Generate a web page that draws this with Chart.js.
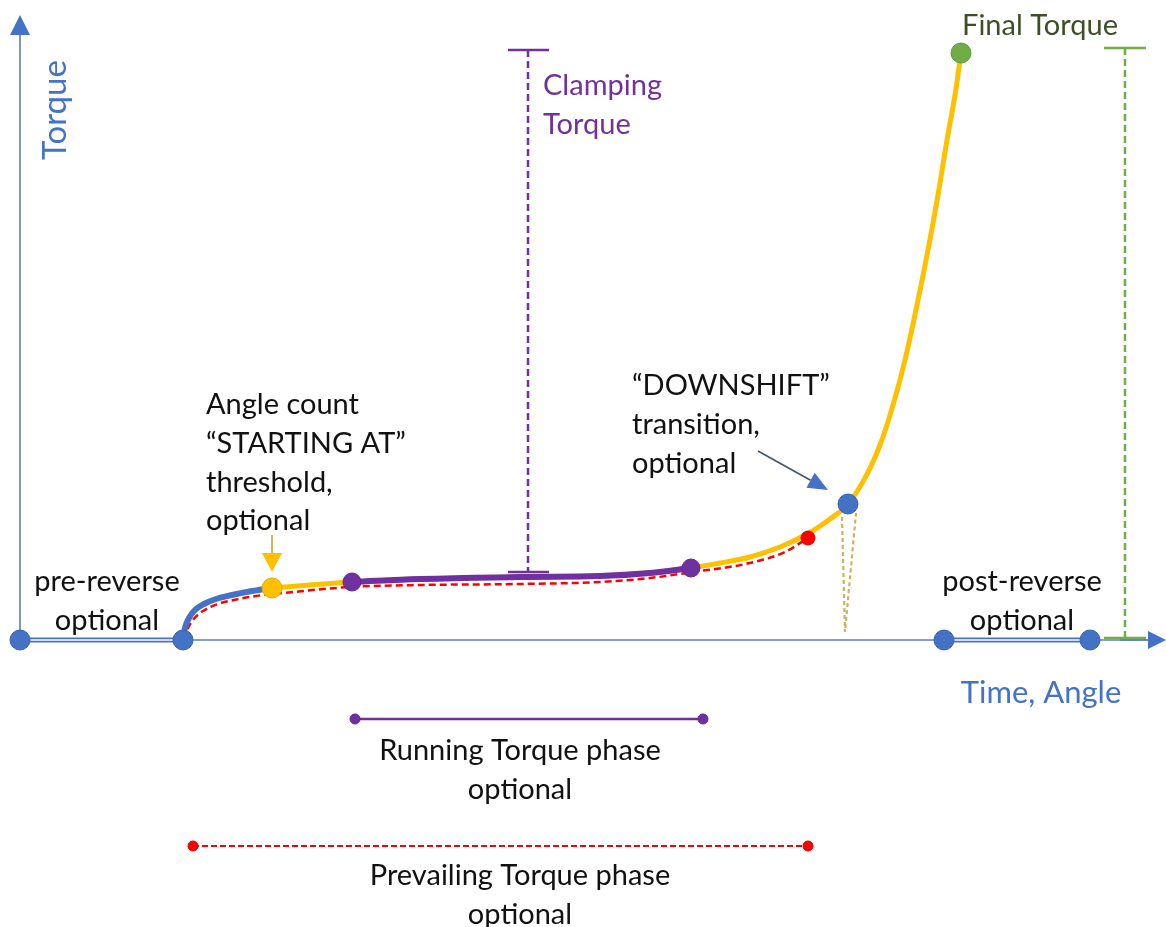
<!DOCTYPE html>
<html>
<head>
<meta charset="utf-8">
<title>Torque vs Time, Angle</title>
<script src="https://cdn.jsdelivr.net/npm/chart.js@4.4.1/dist/chart.umd.min.js"></script>
<style>
  html, body { margin: 0; padding: 0; background: #fff; }
  #wrap { width: 1166px; height: 927px; position: relative; }
</style>
</head>
<body>
<div id="wrap"><canvas id="torqueChart"></canvas></div>
<script>
// diagram units: x = time / angle, y = torque (axes cross at 0,0)
const preReverse  = [[0, 0], [16.3, 0]];
const postReverse = [[92.4, 0], [107.0, 0]];

const rampUp = [[16.3, 0], [16.5, 1.2], [16.9, 2.2], [17.5, 3.0], [18.4, 3.6],
                [19.6, 4.1], [21.2, 4.5], [23.2, 4.9], [25.2, 5.2]];
const tighten = [[25.2, 5.2], [29.0, 5.5], [33.2, 5.8], [40, 6.1], [50, 6.3], [58, 6.4],
                 [63, 6.7], [67.1, 7.2], [70, 7.7], [73, 8.3], [76, 9.3], [78.9, 10.7],
                 [81.0, 12.1], [82.8, 13.6], [84.5, 16.2], [86.0, 19.5], [87.3, 23.5],
                 [88.5, 28.0], [89.7, 33.5], [90.8, 39.0], [91.8, 44.5], [92.7, 50.0],
                 [93.5, 54.5], [94.1, 58.7]];
const running = [[33.2, 5.8], [40, 6.1], [50, 6.3], [58, 6.4], [63, 6.7], [67.1, 7.2]];
const prevailing = [[16.5, 0], [16.7, 0.9], [17.3, 2.0], [18.3, 2.9], [19.8, 3.6],
                    [21.9, 4.1], [24.3, 4.5], [26.3, 4.7], [33, 5.3], [40, 5.5], [50, 5.6],
                    [58, 5.8], [63, 6.2], [67.3, 6.8], [73, 7.7], [76.5, 8.8], [78.8, 10.2]];
const downshiftDip = [[82.2, 12.3], [82.5, 0.8], [83.6, 12.7]];

const blueDots   = [[0, 0], [16.3, 0], [82.8, 13.6], [92.4, 0], [107.0, 0]];
const startDot   = [[25.2, 5.2]];
const purpleDots = [[33.2, 5.8], [67.1, 7.2]];
const redDot     = [[78.8, 10.2]];
const finalDot   = [[94.1, 58.7]];

const clampStem = [[50.8, 59.0], [50.8, 6.8]];
const clampCaps = [[48.8, 59.0], [52.9, 59.0], null, [48.8, 6.8], [52.9, 6.8]];
const finalStem = [[110.5, 59.2], [110.5, 0.2]];
const finalCaps = [[108.4, 59.2], [112.6, 59.2], null, [108.4, 0.2], [112.6, 0.2]];
const runningPhase    = [[33.5, -7.9], [68.3, -7.9]];
const prevailingPhase = [[17.3, -20.6], [78.8, -20.6]];

const xAxisLine = [[0, 0], [113.0, 0]];
const yAxisLine = [[0, 0], [0, 60.6]];

const pts = a => a.map(p => p ? { x: p[0], y: p[1] } : { x: null, y: null });

// text notes (anchor in diagram units)
const notes = [
  { lines: ['pre-reverse', 'optional'], x: 8.7, y: 5.8, align: 'center', color: '#111' },
  { lines: ['post-reverse', 'optional'], x: 100.2, y: 5.8, align: 'center', color: '#111' },
  { lines: ['Angle count', '\u201CSTARTING AT\u201D', 'threshold,', 'optional'], x: 18.6, y: 23.5, align: 'left', color: '#111' },
  { lines: ['\u201CDOWNSHIFT\u201D', 'transition,', 'optional'], x: 61.2, y: 25.4, align: 'left', color: '#111' },
  { lines: ['Clamping', 'Torque'], x: 52.3, y: 55.4, align: 'left', color: '#7030A0' },
  { lines: ['Final Torque'], x: 102.0, y: 61.4, align: 'center', color: '#3d4f26' },
  { lines: ['Time, Angle'], x: 102.1, y: -5.3, align: 'center', color: '#4472C4', size: 31 },
  { lines: ['Running Torque phase', 'optional'], x: 50.0, y: -11.1, align: 'center', color: '#111' },
  { lines: ['Prevailing Torque phase', 'optional'], x: 50.0, y: -23.6, align: 'center', color: '#111' },
  { lines: ['Torque'], x: 3.5, y: 53.0, align: 'center', color: '#4472C4', size: 33, rotate: true }
];

// arrows: from -> tip, in diagram units
const arrows = [
  { from: [0, 58], to: [0, 62.5], line: '#8497b0', head: '#4472C4', len: 2.0, half: 1.0 },
  { from: [110, 0], to: [114.6, 0], line: '#5b7fc0', head: '#4472C4', len: 1.8, half: 0.9 },
  { from: [25.2, 10.5], to: [25.2, 6.8], line: '#c9a227', head: '#FFC000', len: 1.9, half: 1.0 },
  { from: [73.8, 18.9], to: [80.8, 15.0], line: '#44546A', head: '#4472C4', len: 2.0, half: 0.85 }
];

const FONT = 'Lato, "Open Sans", sans-serif';

const overlay = {
  id: 'overlay',
  afterDatasetsDraw(chart) {
    const { ctx, scales: { x, y } } = chart;
    ctx.save();
    arrows.forEach(a => {
      const x0 = x.getPixelForValue(a.from[0]), y0 = y.getPixelForValue(a.from[1]);
      const x1 = x.getPixelForValue(a.to[0]), y1 = y.getPixelForValue(a.to[1]);
      const ang = Math.atan2(y1 - y0, x1 - x0);
      const len = a.len * 10, half = a.half * 10;
      const bx = x1 - Math.cos(ang) * len, by = y1 - Math.sin(ang) * len;
      ctx.strokeStyle = a.line;
      ctx.lineWidth = 1.6;
      ctx.beginPath();
      ctx.moveTo(x0, y0);
      ctx.lineTo(bx, by);
      ctx.stroke();
      ctx.fillStyle = a.head;
      ctx.beginPath();
      ctx.moveTo(x1, y1);
      ctx.lineTo(bx + Math.sin(ang) * half, by - Math.cos(ang) * half);
      ctx.lineTo(bx - Math.sin(ang) * half, by + Math.cos(ang) * half);
      ctx.closePath();
      ctx.fill();
    });
    ctx.textBaseline = 'middle';
    notes.forEach(n => {
      const px = x.getPixelForValue(n.x), py = y.getPixelForValue(n.y);
      ctx.font = (n.size || 29) + 'px ' + FONT;
      ctx.fillStyle = n.color;
      ctx.textAlign = n.align;
      if (n.rotate) {
        ctx.save();
        ctx.translate(px, py);
        ctx.rotate(-Math.PI / 2);
        ctx.fillText(n.lines[0], 0, 0);
        ctx.restore();
        return;
      }
      n.lines.forEach((t, i) => ctx.fillText(t, px, py + i * 38.7));
    });
    ctx.restore();
  }
};

const lineSet = (data, color, width, extra) => Object.assign({
  data: pts(data), showLine: true, borderColor: color, borderWidth: width,
  pointRadius: 0, tension: 0, fill: false, spanGaps: false
}, extra || {});

const dotSet = (data, color, edge, r) => ({
  data: pts(data), showLine: false, pointRadius: r, pointBackgroundColor: color,
  pointBorderColor: edge, pointBorderWidth: 1
});

new Chart(document.getElementById('torqueChart'), {
  type: 'scatter',
  data: {
    datasets: [
      // first listed = drawn on top
      dotSet(finalDot, '#70AD47', '#5f9a3c', 10),
      dotSet(blueDots, '#4472C4', '#3a63ad', 10),
      dotSet(redDot, '#FF0000', '#e00000', 7),
      dotSet(purpleDots, '#7030A0', '#62288e', 9),
      dotSet(startDot, '#FFC000', '#e8ae00', 10),
      dotSet(runningPhase, '#7030A0', '#62288e', 5),
      dotSet(prevailingPhase, '#FF0000', '#e00000', 5),
      lineSet(running, '#7030A0', 6, { tension: 0.4 }),
      lineSet(rampUp, '#4472C4', 6, { cubicInterpolationMode: 'monotone' }),
      lineSet(tighten, '#FFC000', 5, { tension: 0.4 }),
      lineSet(prevailing, '#FF0000', 2.5, { cubicInterpolationMode: 'monotone', borderDash: [7, 4] }),
      lineSet(downshiftDip, '#cdb060', 2.2, { borderDash: [4, 3] }),
      lineSet(runningPhase, '#7030A0', 2.5),
      lineSet(prevailingPhase, '#FF0000', 2, { borderDash: [6, 3] }),
      lineSet(clampCaps, '#7030A0', 2.5),
      lineSet(clampStem, '#7030A0', 2.5, { borderDash: [7, 4] }),
      lineSet(finalCaps, '#70AD47', 2.5),
      lineSet(finalStem, '#70AD47', 2.5, { borderDash: [7, 4] }),
      lineSet(preReverse, '#ffffff', 1.5),
      lineSet(postReverse, '#ffffff', 1.5),
      lineSet(preReverse, '#4472C4', 5),
      lineSet(postReverse, '#4472C4', 5),
      lineSet(xAxisLine, '#5b7fc0', 1.6),
      lineSet(yAxisLine, '#8497b0', 2)
    ]
  },
  options: {
    responsive: true,
    maintainAspectRatio: false,
    animation: false,
    layout: { padding: 0, autoPadding: false },
    plugins: { legend: { display: false }, tooltip: { enabled: false } },
    scales: {
      x: { type: 'linear', min: -2, max: 114.6, display: false },
      y: { type: 'linear', min: -28.7, max: 64.0, display: false }
    }
  },
  plugins: [overlay]
});
</script>
</body>
</html>
